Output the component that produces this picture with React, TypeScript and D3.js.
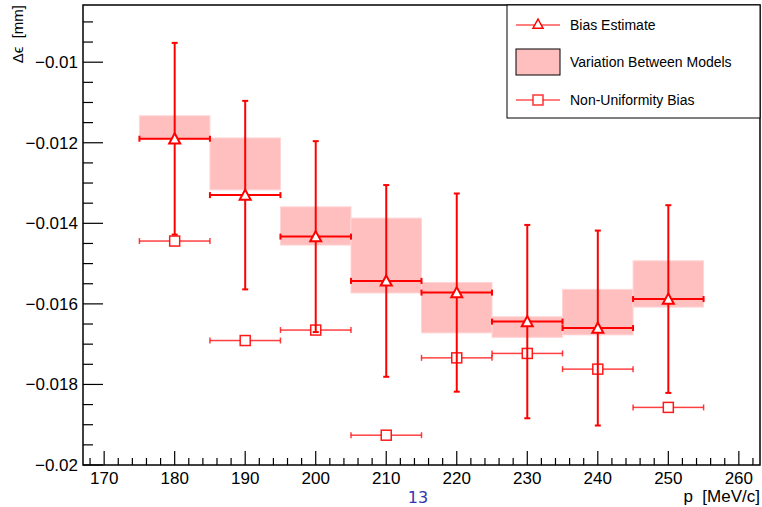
import React, { useEffect } from 'react';
import * as d3 from 'd3';

// momentum bins (bin centre, half width 5)
const momenta = [180, 190, 200, 210, 220, 230, 240, 250];
const binHalfWidth = 5;

// bias estimate (triangles) and its error
const biasEstimate = [-0.01190, -0.01330, -0.01433, -0.01543, -0.01572, -0.01644, -0.01660, -0.01588];
const biasError = [0.00238, 0.00234, 0.00237, 0.00238, 0.00246, 0.00240, 0.00242, 0.00233];

// variation between models (shaded boxes)
const variationLow = [-0.01192, -0.01317, -0.01454, -0.01573, -0.01672, -0.01683, -0.01677, -0.01608];
const variationHigh = [-0.01133, -0.01188, -0.01359, -0.01387, -0.01547, -0.01632, -0.01564, -0.01493];

// non-uniformity bias (squares)
const nonUniformity = [-0.01444, -0.01691, -0.01665, -0.01926, -0.01734, -0.01723, -0.01762, -0.01857];

const xTicks = [170, 180, 190, 200, 210, 220, 230, 240, 250, 260];
const yTicks = [-0.02, -0.018, -0.016, -0.014, -0.012, -0.01];

const RED = '#ff0000';
const FILL = '#ffbfbf';
const FONT = '"Liberation Sans", Arial, Helvetica, sans-serif';

const W = 762;
const H = 507;
const left = 83;
const right = 760;
const top = 5;
const bottom = 465;

const fmtY = (v: number) => (v === -0.02 ? '\u22120.02' : v === -0.01 ? '\u22120.01' : '\u2212' + Math.abs(v).toFixed(3));

const triPath = (cx: number, cy: number, s = 5.5) =>
  `M${cx},${cy - s} L${cx + s},${cy + s * 0.85} L${cx - s},${cy + s * 0.85} Z`;

export default function App() {
  useEffect(() => {
    document.body.style.margin = '0';
  }, []);

  const x = d3.scaleLinear().domain([167, 263]).range([left, right]);
  const y = d3.scaleLinear().domain([-0.02, -0.00858]).range([bottom, top]);

  const xMinor = d3.range(168, 263, 2).filter((v) => v % 10 !== 0);
  const yMinor = d3.range(-0.02, -0.0085, 0.0005).filter((v) => Math.abs((v * 1000) % 2) > 0.1 && Math.abs((v * 1000) % 2) < 1.9);

  const cap = 3;

  return (
    <svg width={W} height={H} style={{ display: 'block', background: '#fff' }} fontFamily={FONT}>
      {/* variation boxes */}
      {momenta.map((m, i) => (
        <rect
          key={'box' + m}
          x={x(m - binHalfWidth)}
          y={y(variationHigh[i])}
          width={x(m + binHalfWidth) - x(m - binHalfWidth)}
          height={y(variationLow[i]) - y(variationHigh[i])}
          fill={FILL}
          stroke="#ffd6d6"
          strokeWidth={1}
        />
      ))}

      {/* non-uniformity bias */}
      {momenta.map((m, i) => {
        const cx = x(m);
        const cy = y(nonUniformity[i]);
        const x0 = x(m - binHalfWidth);
        const x1 = x(m + binHalfWidth);
        return (
          <g key={'nu' + m} stroke={RED} strokeOpacity={0.75} strokeWidth={1.5} fill="none">
            <line x1={x0} x2={cx - 5} y1={cy} y2={cy} />
            <line x1={cx + 5} x2={x1} y1={cy} y2={cy} />
            <line x1={x0} x2={x0} y1={cy - cap} y2={cy + cap} />
            <line x1={x1} x2={x1} y1={cy - cap} y2={cy + cap} />
            <rect x={cx - 5} y={cy - 5} width={10} height={10} fill="#fff" strokeOpacity={0.9} />
          </g>
        );
      })}

      {/* bias estimate */}
      {momenta.map((m, i) => {
        const cx = x(m);
        const cy = y(biasEstimate[i]);
        const yt = y(biasEstimate[i] + biasError[i]);
        const yb = y(biasEstimate[i] - biasError[i]);
        const x0 = x(m - binHalfWidth);
        const x1 = x(m + binHalfWidth);
        return (
          <g key={'be' + m} stroke={RED} strokeWidth={2} fill="none">
            <line x1={cx} x2={cx} y1={yt} y2={yb} />
            <line x1={x0} x2={x1} y1={cy} y2={cy} />
            <line x1={cx - cap} x2={cx + cap} y1={yt} y2={yt} />
            <line x1={cx - cap} x2={cx + cap} y1={yb} y2={yb} />
            <line x1={x0} x2={x0} y1={cy - cap} y2={cy + cap} />
            <line x1={x1} x2={x1} y1={cy - cap} y2={cy + cap} />
            <path d={triPath(cx, cy)} fill="#fff" />
          </g>
        );
      })}

      {/* frame */}
      <rect x={left} y={top} width={right - left} height={bottom - top} fill="none" stroke="#000" strokeWidth={1.5} />

      {/* x ticks */}
      {xTicks.map((t) => (
        <g key={'xt' + t}>
          <line x1={x(t)} x2={x(t)} y1={bottom} y2={bottom - 14} stroke="#000" strokeWidth={1.2} />
          <text x={x(t)} y={484} textAnchor="middle" fontSize={17}>
            {t}
          </text>
        </g>
      ))}
      {xMinor.map((t) => (
        <line key={'xm' + t} x1={x(t)} x2={x(t)} y1={bottom} y2={bottom - 7} stroke="#000" strokeWidth={1.2} />
      ))}

      {/* y ticks */}
      {yTicks.map((t) => (
        <g key={'yt' + t}>
          <line x1={left} x2={left + 20} y1={y(t)} y2={y(t)} stroke="#000" strokeWidth={1.2} />
          <text x={78} y={y(t) + 6} textAnchor="end" fontSize={17}>
            {fmtY(t)}
          </text>
        </g>
      ))}
      {yMinor.map((t) => (
        <line key={'ym' + t} x1={left} x2={left + 10} y1={y(t)} y2={y(t)} stroke="#000" strokeWidth={1.2} />
      ))}

      {/* axis titles */}
      <text x={760} y={502} textAnchor="end" fontSize={17} style={{ whiteSpace: 'pre' }}>
        {'p  [MeV/c]'}
      </text>
      <text transform="translate(23,5) rotate(-90)" textAnchor="end" fontSize={15} style={{ whiteSpace: 'pre' }}>
        {'\u0394\u03f5  [mm]'}
      </text>

      {/* legend */}
      <rect x={507} y={5} width={253} height={113} fill="#fff" stroke="#000" strokeWidth={1} />
      <g stroke={RED} strokeWidth={1.2} fill="none">
        <line x1={516} x2={560} y1={25} y2={25} />
        <path d={triPath(538, 24, 5)} fill="#fff" strokeWidth={1.5} />
      </g>
      <text x={570} y={30} fontSize={14}>
        Bias Estimate
      </text>
      <rect x={516} y={49} width={44} height={26} fill={FILL} stroke="#000" strokeWidth={1} />
      <text x={570} y={67} fontSize={14}>
        Variation Between Models
      </text>
      <g stroke={RED} strokeWidth={1.2} fill="none">
        <line x1={516} x2={560} y1={100} y2={100} />
        <rect x={533} y={95} width={10} height={10} fill="#fff" strokeWidth={1.5} strokeOpacity={0.8} />
      </g>
      <text x={570} y={105} fontSize={14}>
        Non-Uniformity Bias
      </text>

      {/* page number */}
      <text x={418} y={503} textAnchor="middle" fontSize={16} fill="#3535b0" fontFamily='"DejaVu Sans", sans-serif'>
        13
      </text>
    </svg>
  );
}
